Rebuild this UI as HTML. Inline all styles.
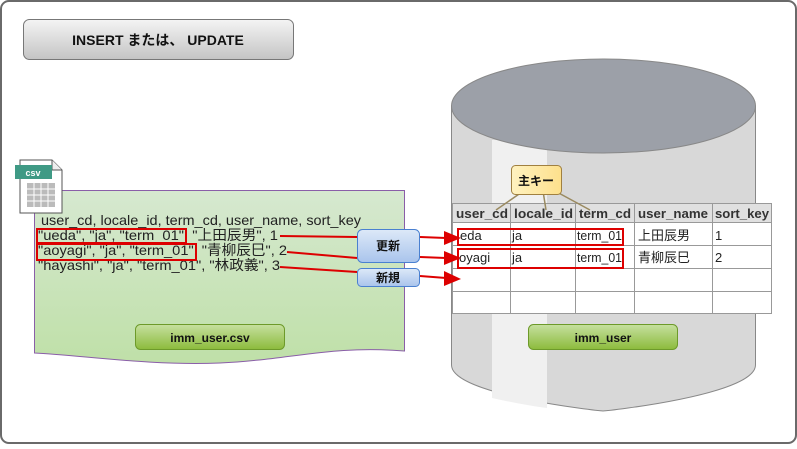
<!DOCTYPE html>
<html><head><meta charset="utf-8"><style>
html,body{margin:0;padding:0;background:#fff;}
svg text{font-family:"Liberation Sans","Noto Sans CJK JP",sans-serif;}
</style></head><body>
<svg width="797" height="444" viewBox="0 0 797 444" xmlns="http://www.w3.org/2000/svg">
<defs>
<linearGradient id="gt" x1="0" y1="0" x2="0" y2="1"><stop offset="0" stop-color="#f4f4f4"/><stop offset="1" stop-color="#c4c4c4"/></linearGradient>
<linearGradient id="gg" x1="0" y1="0" x2="0" y2="1"><stop offset="0" stop-color="#c6e0a0"/><stop offset="1" stop-color="#8cbb3c"/></linearGradient>
<linearGradient id="gd" x1="0" y1="0" x2="0" y2="1"><stop offset="0" stop-color="#d6e8d0"/><stop offset="1" stop-color="#bfe0a8"/></linearGradient>
<linearGradient id="gb" x1="0" y1="0" x2="0" y2="1"><stop offset="0" stop-color="#dde9f8"/><stop offset="1" stop-color="#a9c4ec"/></linearGradient>
<linearGradient id="gy" x1="0" y1="0" x2="1" y2="0"><stop offset="0" stop-color="#fff2c0"/><stop offset="1" stop-color="#fde08c"/></linearGradient>
</defs>
<rect x="1" y="1" width="795" height="442" rx="8" fill="#fff" stroke="#6a6a6a" stroke-width="2"/>
<rect x="23.5" y="19.5" width="270" height="40" rx="6" fill="url(#gt)" stroke="#777"/>
<text x="158" y="45" font-size="14" font-weight="bold" text-anchor="middle" fill="#111">INSERT または、 UPDATE</text>

<path d="M34.5 190.5 H404.5 V351 C330 345 290 360 220 363 C150 366 80 355 34.5 353 Z" fill="url(#gd)" stroke="#8a5ea8"/>
<path d="M20 160 H52 L62 170 V213 H20 Z" fill="#fff" stroke="#555"/>
<path d="M52 160 V170 H62" fill="#eee" stroke="#555"/>
<rect x="15" y="165" width="37" height="14" fill="#3f9a85"/>
<text x="33" y="176" font-size="9" font-weight="bold" fill="#fff" text-anchor="middle">csv</text>
<rect x="27" y="183" width="28" height="24" fill="#bbb"/>
<g stroke="#fff" stroke-width="1"><path d="M27 189H55M27 195H55M27 201H55M34 183V207M41 183V207M48 183V207"/></g>

<g font-size="14" fill="#222">
<text x="41" y="225" textLength="320" lengthAdjust="spacingAndGlyphs">user_cd, locale_id, term_cd, user_name, sort_key</text>
<text x="38" y="240" textLength="240" lengthAdjust="spacingAndGlyphs">"ueda", "ja", "term_01", "上田辰男", 1</text>
<text x="38" y="255" textLength="249" lengthAdjust="spacingAndGlyphs">"aoyagi", "ja", "term_01", "青柳辰巳", 2</text>
<text x="38" y="270" textLength="242" lengthAdjust="spacingAndGlyphs">"hayashi", "ja", "term_01", "林政義", 3</text>
</g>
<rect x="37" y="229" width="149" height="14" fill="none" stroke="#d00" stroke-width="2"/>
<rect x="37" y="244" width="159" height="16" fill="none" stroke="#d00" stroke-width="2"/>
<rect x="135.5" y="324.5" width="149" height="25" rx="5" fill="url(#gg)" stroke="#6d9a2a"/>
<text x="210" y="342" font-size="12" font-weight="bold" text-anchor="middle" fill="#111">imm_user.csv</text>

<path d="M451.5 106 V365 C451.5 395 600 411 603 411 C606 411 755.5 395 755.5 365 V106 Z" fill="#d8d8d8" stroke="#888"/>
<path d="M492 140 H547 V408 C530 406 510 402 492 398 Z" fill="#f0f0f0"/>
<ellipse cx="603.5" cy="106" rx="152" ry="47" fill="#9ca0a8" stroke="#888"/>
<rect x="528.5" y="324.5" width="149" height="25" rx="5" fill="url(#gg)" stroke="#6d9a2a"/>
<text x="603" y="342" font-size="12" font-weight="bold" text-anchor="middle" fill="#111">imm_user</text>

<rect x="452" y="203" width="320" height="111" fill="#fff"/>
<rect x="452" y="203" width="320" height="19" fill="#e0e0e0"/>
<g stroke="#999" fill="none">
<rect x="452.5" y="203.5" width="319" height="110"/>
<path d="M452 222.5H772M452 245.5H772M452 268.5H772M452 291.5H772M510.5 203V314M575.5 203V314M634.5 203V314M712.5 203V314"/>
</g>
<g font-size="13" font-weight="bold" fill="#333">
<text x="456" y="218" textLength="52" lengthAdjust="spacingAndGlyphs">user_cd</text>
<text x="514" y="218" textLength="59" lengthAdjust="spacingAndGlyphs">locale_id</text>
<text x="579" y="218" textLength="52" lengthAdjust="spacingAndGlyphs">term_cd</text>
<text x="638" y="218" textLength="70" lengthAdjust="spacingAndGlyphs">user_name</text>
<text x="715" y="218" textLength="54" lengthAdjust="spacingAndGlyphs">sort_key</text>
</g>
<g font-size="13" fill="#222">
<text x="460" y="240">eda</text><text x="512" y="240">ja</text><text x="577" y="240" textLength="45" lengthAdjust="spacingAndGlyphs">term_01</text><text x="638" y="240">上田辰男</text><text x="715" y="240">1</text>
<text x="459" y="262">oyagi</text><text x="512" y="262">ja</text><text x="577" y="262" textLength="45" lengthAdjust="spacingAndGlyphs">term_01</text><text x="638" y="262">青柳辰巳</text><text x="715" y="262">2</text>
</g>
<rect x="458" y="229" width="165" height="16" fill="none" stroke="#d00" stroke-width="2"/>
<rect x="458" y="249" width="165" height="19" fill="none" stroke="#d00" stroke-width="2"/>

<path d="M496 210 L522 192 M543 191 L546 210 M555 191 L590 210" stroke="#9a8a60" stroke-width="1.5" fill="none"/>
<rect x="511.5" y="165.5" width="50" height="29" rx="4" fill="url(#gy)" stroke="#a08040"/>
<text x="536" y="185" font-size="12" font-weight="bold" text-anchor="middle" fill="#111">主キー</text>

<g stroke="#d00" stroke-width="2" fill="none">
<path d="M280 236 L357 237"/><path d="M287 252 L357 258"/><path d="M280 267 L357 272"/>
<path d="M420 237 L446 238"/><path d="M420 257 L446 258"/><path d="M420 276 L446 278"/>
</g>
<g fill="#d00">
<path d="M444 231 L461 238 L444 245 Z"/><path d="M444 251 L461 258 L444 265 Z"/><path d="M444 271 L461 279 L444 286 Z"/>
</g>
<rect x="357.5" y="229.5" width="62" height="33" rx="5" fill="url(#gb)" stroke="#4a80d0"/>
<text x="388" y="250" font-size="12" font-weight="bold" text-anchor="middle" fill="#111">更新</text>
<rect x="357.5" y="268.5" width="62" height="18" rx="4" fill="url(#gb)" stroke="#4a80d0"/>
<text x="388" y="282" font-size="12" font-weight="bold" text-anchor="middle" fill="#111">新規</text>
</svg>
</body></html>
